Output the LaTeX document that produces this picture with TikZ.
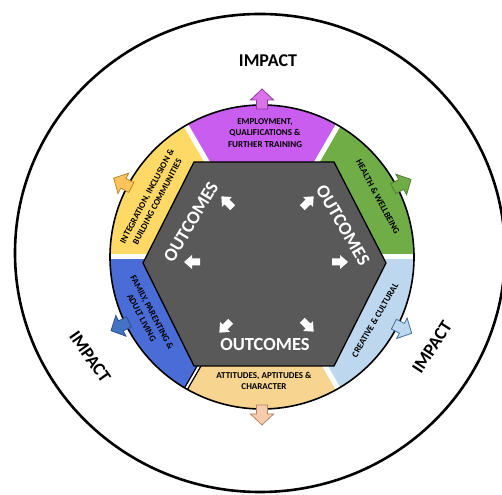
\documentclass[tikz,border=0pt]{standalone}
\usepackage{fontspec}
\setmainfont{Carlito}
\definecolor{segpurple}{HTML}{C95DF0}
\definecolor{segyellow}{HTML}{FFD966}
\definecolor{seggreen}{HTML}{70AD47}
\definecolor{seglblue}{HTML}{BDD7EE}
\definecolor{segpeach}{HTML}{F7D48F}
\definecolor{segblue}{HTML}{4A6CD6}
\definecolor{hexgray}{HTML}{595959}
\definecolor{arrpurple}{HTML}{DC72EA}
\definecolor{arrpurpleD}{HTML}{8E3A9E}
\definecolor{arryellow}{HTML}{FFC35C}
\definecolor{arryellowD}{HTML}{B8862E}
\definecolor{arrgreenD}{HTML}{507E32}
\definecolor{arrblue}{HTML}{4472C4}
\definecolor{arrblueD}{HTML}{2F528F}
\definecolor{arrlblueD}{HTML}{41719C}
\definecolor{arrpeach}{HTML}{F8CBAD}
\definecolor{arrpeachD}{HTML}{B08468}
\newcommand\fatarrow[3]{%
  \begin{scope}[shift={(262,237)},rotate=#1]
    \filldraw[fill=#2,draw=#3,line width=0.8pt,line join=miter]
      (148,-5.5) -- (157,-5.5) -- (157,-11.5) -- (168,0) -- (157,11.5) -- (157,5.5) -- (148,5.5) -- cycle;
  \end{scope}}
\newcommand\whitearrow[3]{%
  \begin{scope}[shift={(#1,#2)},rotate=#3]
    \fill[white] (-8,-3.5) -- (0,-3.5) -- (0,-7) -- (8,0) -- (0,7) -- (0,3.5) -- (-8,3.5) -- cycle;
  \end{scope}}
\tikzset{
  seglabel/.style={font=\fontsize{9}{11.8}\selectfont\bfseries, text=black, align=center, inner sep=0pt},
  outlabel/.style={font=\fontsize{18.5}{20}\selectfont\bfseries, text=white, inner sep=0pt},
  implabel/.style={font=\fontsize{18}{20}\selectfont\bfseries, text=black, inner sep=0pt},
}
\begin{document}
\begin{tikzpicture}[x=1pt,y=1pt]
\useasboundingbox (0,0) rectangle (502,494);
% outer impact circle
\draw[line width=2.6pt] (260,241) ellipse [x radius=245, y radius=239];
% ring segments
\begin{scope}[shift={(262,237)}]
  \fill[seggreen]  (0,0) -- (0:152)   arc[start angle=0,   end angle=60,  radius=152] -- cycle;
  \fill[segpurple] (0,0) -- (60:152)  arc[start angle=60,  end angle=120, radius=152] -- cycle;
  \fill[segyellow] (0,0) -- (120:152) arc[start angle=120, end angle=180, radius=152] -- cycle;
  \fill[segblue]   (0,0) -- (180:152) arc[start angle=180, end angle=240, radius=152] -- cycle;
  \fill[segpeach]  (0,0) -- (240:152) arc[start angle=240, end angle=300, radius=152] -- cycle;
  \fill[seglblue]  (0,0) -- (300:152) arc[start angle=300, end angle=360, radius=152] -- cycle;
  \foreach \a in {0,60,120,180,300}
    \draw[white,line width=5pt] (0,0) -- (\a:152);
  \draw[black,line width=4.5pt] (0,0) -- (240:152);
  \draw[white,line width=1.8pt] (0,0) -- (240:152);
  \draw[line width=1.6pt] (0,0) circle[radius=152];
\end{scope}
% outward arrows
\fatarrow{90}{arrpurple}{arrpurpleD}
\fatarrow{152}{arryellow}{arryellowD}
\fatarrow{27.5}{seggreen}{arrgreenD}
\fatarrow{206}{arrblue}{arrblueD}
\fatarrow{333}{seglblue}{arrlblueD}
\fatarrow{270}{arrpeach}{arrpeachD}
% hexagon
\filldraw[fill=hexgray,draw=black,line width=1.3pt,line join=miter]
  (194,332) -- (334,332) -- (386,231) -- (334,128) -- (194,128) -- (143,231) -- cycle;
% white inner arrows
\whitearrow{227}{292}{135}
\whitearrow{308}{292}{45}
\whitearrow{192}{232}{180}
\whitearrow{340}{232}{0}
\whitearrow{225}{167}{225}
\whitearrow{308}{168}{315}
% outcomes
\node[outlabel,rotate=59] (outL) at (191,272) {OUTCOMES};
\node[outlabel,rotate=-60] (outR) at (343,269) {OUTCOMES};
\node[outlabel] (outB) at (265,149) {OUTCOMES};
% segment labels
\node[seglabel] (lpurple) at (265,361) {EMPLOYMENT,\\QUALIFICATIONS \&\\FURTHER TRAINING};
\node[seglabel] (lpeach) at (264,113) {ATTITUDES, APTITUDES \&\\CHARACTER};
\node[seglabel,rotate=62] (lyellow) at (152,295) {INTEGRATION, INCLUSION \&\\BUILDING COMMUNITIES};
\node[seglabel,rotate=-62] (lgreen) at (378,297) {HEALTH \& WELLBEING};
\node[seglabel,rotate=60] (llblue) at (375,174) {CREATIVE \& CULTURAL};
\node[seglabel,rotate=-62] (lblue) at (147,179) {FAMILY, PARENTING \&\\ADULT LIVING};
% impact labels
\node[implabel] (impT) at (268,433.5) {IMPACT};
\node[implabel,rotate=-55] (impL) at (90,137) {IMPACT};
\node[implabel,rotate=57] (impR) at (432,147) {IMPACT};
\end{tikzpicture}
\end{document}
